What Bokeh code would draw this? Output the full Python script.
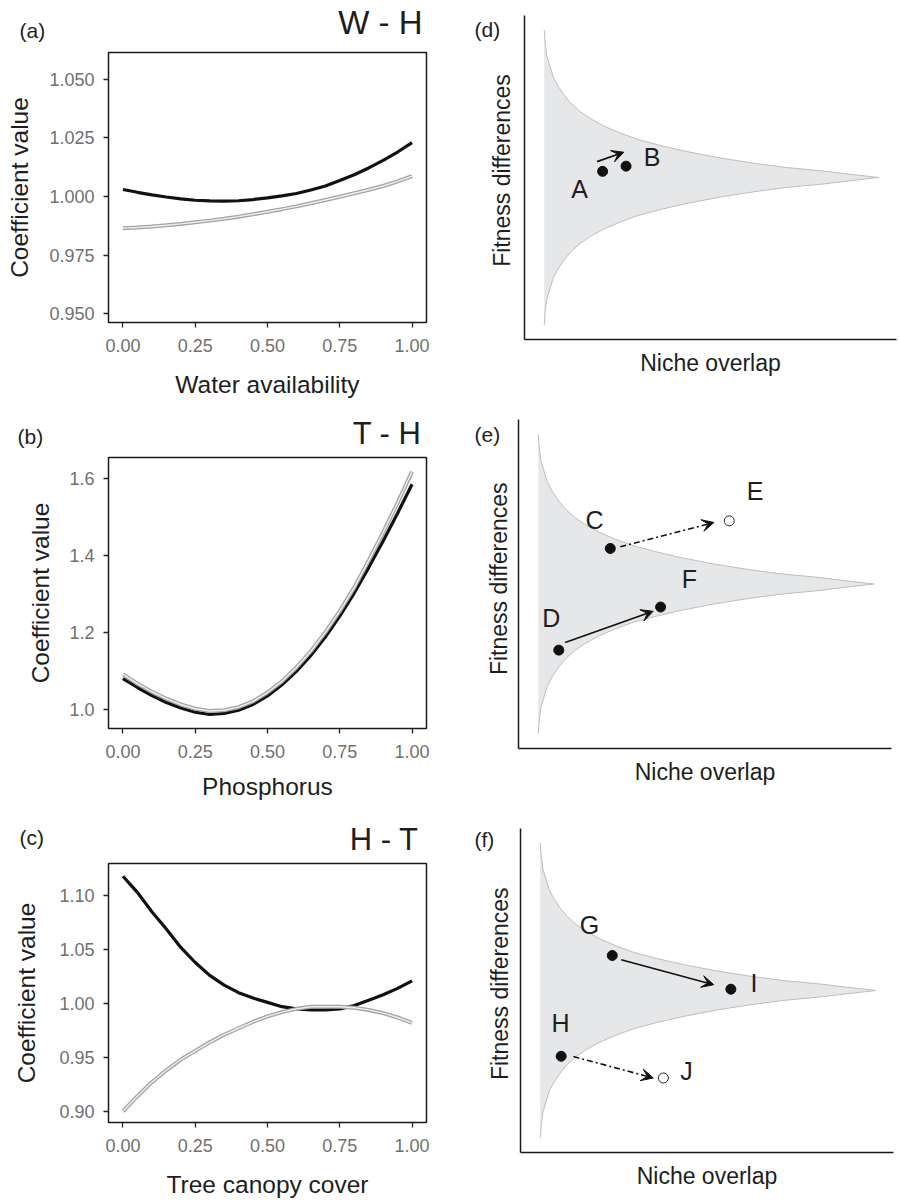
import math
from bokeh.plotting import figure
from bokeh.layouts import row, column
from bokeh.models import (Range1d, FixedTicker, NumeralTickFormatter, Label, Arrow,
                          VeeHead, ColumnDataSource)
from bokeh.embed import file_html
from bokeh.resources import INLINE

FONT = "Liberation Sans"

# ---------------- data: coefficient curves (left column) ----------------
x_grid = [0.00, 0.05, 0.10, 0.15, 0.20, 0.25, 0.30, 0.35, 0.40, 0.45, 0.50,
          0.55, 0.60, 0.65, 0.70, 0.75, 0.80, 0.85, 0.90, 0.95, 1.00]

wh_black = [1.0030, 1.0018, 1.0007, 0.9998, 0.9990, 0.9984, 0.9981, 0.9980, 0.9982, 0.9987, 0.9994,
            1.0003, 1.0013, 1.0028, 1.0045, 1.0068, 1.0093, 1.0122, 1.0154, 1.0190, 1.0230]
wh_grey = [0.9865, 0.9868, 0.9872, 0.9877, 0.9883, 0.9890, 0.9897, 0.9905, 0.9914, 0.9924, 0.9935,
           0.9946, 0.9958, 0.9971, 0.9985, 0.9999, 1.0014, 1.0029, 1.0045, 1.0065, 1.0087]

th_black = [1.081, 1.058, 1.037, 1.019, 1.005, 0.994, 0.988, 0.991, 0.999, 1.014, 1.036,
            1.065, 1.100, 1.141, 1.189, 1.243, 1.303, 1.369, 1.438, 1.510, 1.585]
th_grey = [1.092, 1.068, 1.047, 1.029, 1.014, 1.003, 0.997, 0.999, 1.007, 1.022, 1.045,
           1.074, 1.110, 1.152, 1.201, 1.256, 1.317, 1.387, 1.460, 1.537, 1.618]

ht_black = [1.118, 1.103, 1.085, 1.069, 1.052, 1.038, 1.026, 1.017, 1.010, 1.005, 1.001,
            0.997, 0.995, 0.994, 0.994, 0.995, 0.998, 1.003, 1.008, 1.014, 1.021]
ht_grey = [0.900, 0.914, 0.927, 0.938, 0.948, 0.956, 0.964, 0.971, 0.977, 0.983, 0.988,
           0.992, 0.995, 0.997, 0.997, 0.997, 0.996, 0.994, 0.991, 0.987, 0.982]

x_ticks = [0.00, 0.25, 0.50, 0.75, 1.00]
wh_ticks = [0.950, 0.975, 1.000, 1.025, 1.050]
th_ticks = [1.0, 1.2, 1.4, 1.6]
ht_ticks = [0.90, 0.95, 1.00, 1.05, 1.10]

# ---------------- data: coexistence diagrams (right column) ----------------
shape_x = [0.053, 0.056, 0.060, 0.078, 0.091, 0.105, 0.123, 0.150, 0.177, 0.213, 0.258,
           0.303, 0.365, 0.437, 0.527, 0.617, 0.702, 0.796, 0.876, 0.953]
shape_half = [0.455, 0.410, 0.375, 0.308, 0.281, 0.257, 0.231, 0.203, 0.182, 0.159, 0.137,
              0.118, 0.099, 0.080, 0.060, 0.044, 0.031, 0.021, 0.010, 0.0]
shape_center = 0.5

d_x_filled = [0.210, 0.273]
d_y_filled = [0.519, 0.535]
d_labels = ["A", "B"]
d_lab_x = [0.148, 0.343]
d_lab_y = [0.466, 0.563]
d_arrows_solid = dict(x_start=[0.195], y_start=[0.549], x_end=[0.267], y_end=[0.578])

e_x_filled = [0.246, 0.108, 0.381]       # C, D, F
e_y_filled = [0.608, 0.299, 0.430]
e_x_open = [0.565]                       # E
e_y_open = [0.692]
e_labels = ["C", "D", "E", "F"]
e_lab_x = [0.204, 0.088, 0.634, 0.458]
e_lab_y = [0.696, 0.398, 0.783, 0.514]
e_arrows_solid = dict(x_start=[0.125], y_start=[0.322], x_end=[0.361], y_end=[0.417])
e_arrows_dash = dict(x_start=[0.273], y_start=[0.613], x_end=[0.524], y_end=[0.687])

f_x_filled = [0.246, 0.564, 0.109]       # G, I, H
f_y_filled = [0.608, 0.504, 0.297]
f_x_open = [0.383]                       # J
f_y_open = [0.230]
f_labels = ["G", "I", "H", "J"]
f_lab_x = [0.185, 0.626, 0.107, 0.445]
f_lab_y = [0.701, 0.524, 0.399, 0.251]
f_arrows_solid = dict(x_start=[0.270], y_start=[0.595], x_end=[0.518], y_end=[0.518])
f_arrows_dash = dict(x_start=[0.142], y_start=[0.296], x_end=[0.356], y_end=[0.230])

LEFT_W = 452
XR = (-0.05, 1.05)
TXT = "#1e1e1e"


def no_align(p):
    try:
        p.frame_align = False
    except Exception:
        pass
    return p


def text_strip(x0, x1, y0, y1, items):
    """A bare figure whose frame covers its whole canvas, in page pixel coordinates."""
    p = figure(width=int(x1 - x0), height=int(y1 - y0), x_range=Range1d(x0, x1), y_range=Range1d(y1, y0),
               output_backend="svg", toolbar_location=None,
               min_border_left=0, min_border_right=0, min_border_top=0, min_border_bottom=0)
    no_align(p)
    p.axis.visible = False
    p.grid.visible = False
    p.outline_line_color = None
    for (x, y, text, size, align, angle) in items:
        p.add_layout(Label(x=x, y=y, text=text, text_font=FONT, text_font_size=size, angle=angle,
                           text_color=TXT, text_align=align, text_baseline="middle"))
    return p


def left_panel(height, frame_h, yr, yticks, yfmt, ylab_standoff, xlab_standoff, xlabel, black, grey):
    bl, br, bt = 108, 26, 2
    bb = height - bt - frame_h
    p = figure(width=LEFT_W, height=height, x_range=Range1d(*XR), y_range=Range1d(*yr),
               output_backend="svg", toolbar_location=None,
               min_border_left=bl, min_border_right=br, min_border_top=bt, min_border_bottom=bb)
    no_align(p)
    p.xgrid.visible = False
    p.ygrid.visible = False
    p.outline_line_color = "#1a1a1a"
    p.outline_line_width = 1.5
    p.border_fill_color = "white"
    for ax in (p.xaxis[0], p.yaxis[0]):
        ax.axis_line_color = None
        ax.major_tick_out = 5
        ax.major_tick_in = 0
        ax.minor_tick_line_color = None
        ax.major_tick_line_color = "#222222"
        ax.major_tick_line_width = 1.3
        ax.major_label_text_font = FONT
        ax.major_label_text_font_size = "18px"
        ax.major_label_text_color = "#707070"
        ax.axis_label_text_font = FONT
        ax.axis_label_text_font_size = "24.5px"
        ax.axis_label_text_font_style = "normal"
        ax.axis_label_text_color = TXT
    p.xaxis.ticker = FixedTicker(ticks=x_ticks)
    p.xaxis.formatter = NumeralTickFormatter(format="0.00")
    p.xaxis.major_label_standoff = 11
    p.xaxis.axis_label_standoff = xlab_standoff
    p.xaxis.axis_label = xlabel
    p.yaxis.ticker = FixedTicker(ticks=yticks)
    p.yaxis.formatter = NumeralTickFormatter(format=yfmt)
    p.yaxis.major_label_standoff = 9
    p.yaxis.axis_label_standoff = ylab_standoff
    p.yaxis.axis_label = "Coefficient value"

    p.line(x_grid, black, line_color="#111111", line_width=3.2)
    p.line(x_grid, grey, line_color="#a3a3a3", line_width=4)
    p.line(x_grid, grey, line_color="#efefef", line_width=1.4)
    return p


def right_panel(width, height, btop, frame_h, bright,
                filled_x, filled_y, open_x, open_y, labels, lab_x, lab_y, solid_arrows, dash_arrows):
    bl = 2
    bb = height - btop - frame_h
    p = figure(width=width, height=height, x_range=Range1d(0, 1), y_range=Range1d(0, 1),
               output_backend="svg", toolbar_location=None,
               min_border_left=bl, min_border_right=bright, min_border_top=btop, min_border_bottom=bb)
    no_align(p)
    p.xgrid.visible = False
    p.ygrid.visible = False
    p.outline_line_color = None
    p.border_fill_color = "white"
    for ax in (p.xaxis[0], p.yaxis[0]):
        ax.ticker = FixedTicker(ticks=[])
        ax.axis_line_color = "#1a1a1a"
        ax.axis_line_width = 1.5
        ax.major_tick_line_color = None
        ax.minor_tick_line_color = None
        ax.major_label_text_font_size = "0px"
    ax = p.xaxis[0]
    ax.axis_label = "Niche overlap"
    ax.axis_label_text_font = FONT
    ax.axis_label_text_font_size = "23px"
    ax.axis_label_text_font_style = "normal"
    ax.axis_label_text_color = TXT
    ax.axis_label_standoff = 10

    upper = [shape_center + h for h in shape_half]
    lower = [shape_center - h for h in shape_half]
    p.varea(x=shape_x, y1=lower, y2=upper, fill_color="#e6e7e8")
    p.line(shape_x, upper, line_color="#bdbdbd", line_width=1)
    p.line(shape_x, lower, line_color="#bdbdbd", line_width=1)

    head = dict(size=12, fill_color="#111111", line_color="#111111", line_width=1)
    if solid_arrows:
        p.add_layout(Arrow(source=ColumnDataSource(solid_arrows), x_start="x_start", y_start="y_start",
                           x_end="x_end", y_end="y_end", line_color="#111111", line_width=1.6,
                           end=VeeHead(**head)))
    if dash_arrows:
        p.add_layout(Arrow(source=ColumnDataSource(dash_arrows), x_start="x_start", y_start="y_start",
                           x_end="x_end", y_end="y_end", line_color="#111111", line_width=1.6,
                           line_dash="6 3 2 3", end=VeeHead(**head)))

    p.scatter(filled_x, filled_y, size=10, fill_color="#111111", line_color="#111111")
    if open_x:
        p.scatter(open_x, open_y, size=10, fill_color="white", line_color="#222222", line_width=1)

    src = ColumnDataSource(dict(x=lab_x, y=lab_y, t=labels))
    p.text(x="x", y="y", text="t", source=src, text_font={"value": FONT}, text_font_size="25px",
           text_color=TXT, text_align="center", text_baseline="middle")
    return p


V = math.pi / 2
# left column: headers (page pixel coordinates) + panels
ha = text_strip(0, LEFT_W, 0, 50, [(19, 30, "(a)", "21px", "left", 0),
                                   (422, 22, "W - H", "33px", "right", 0)])
pa = left_panel(355, 270, (0.9462, 1.0615), wh_ticks, "0.000", 13, 16, "Water availability",
                wh_black, wh_grey)
hb = text_strip(0, LEFT_W, 405, 455, [(17, 435.5, "(b)", "21px", "left", 0),
                                      (421, 432.5, "T - H", "31px", "right", 0)])
pb = left_panel(355, 271, (0.9517, 1.6545), th_ticks, "0.0", 12, 12, "Phosphorus", th_black, th_grey)
hc = text_strip(0, LEFT_W, 810, 861, [(19, 836.5, "(c)", "21px", "left", 0),
                                      (418, 838.5, "H - T", "31px", "right", 0)])
pc = left_panel(339, 270, (0.8896, 1.1298), ht_ticks, "0.00", 16, 16, "Tree canopy cover",
                ht_black, ht_grey)

# right column: side strips with tag + axis title, and the diagrams
sd = text_strip(452, 522, 0, 405, [(474, 29, "(d)", "21px", "left", 0),
                                   (501.7, 170, "Fitness differences", "23px", "center", V)])
pd = right_panel(377, 405, 15, 324, 3, d_x_filled, d_y_filled, [], [],
                 d_labels, d_lab_x, d_lab_y, d_arrows_solid, None)
se = text_strip(452, 516, 405, 810, [(474, 434, "(e)", "21px", "left", 0),
                                     (498.3, 578.3, "Fitness differences", "23px", "center", V)])
pe = right_panel(383, 405, 14, 329, 8, e_x_filled, e_y_filled, e_x_open, e_y_open,
                 e_labels, e_lab_x, e_lab_y, e_arrows_solid, e_arrows_dash)
sf = text_strip(452, 518, 810, 1200, [(474, 839, "(f)", "21px", "left", 0),
                                      (499, 983.3, "Fitness differences", "23px", "center", V)])
pf = right_panel(381, 390, 18, 324, 6, f_x_filled, f_y_filled, f_x_open, f_y_open,
                 f_labels, f_lab_x, f_lab_y, f_arrows_solid, f_arrows_dash)

layout = row(column(ha, pa, hb, pb, hc, pc),
             column(row(sd, pd), row(se, pe), row(sf, pf)))

open("out.html", "w").write(file_html(layout, INLINE))
